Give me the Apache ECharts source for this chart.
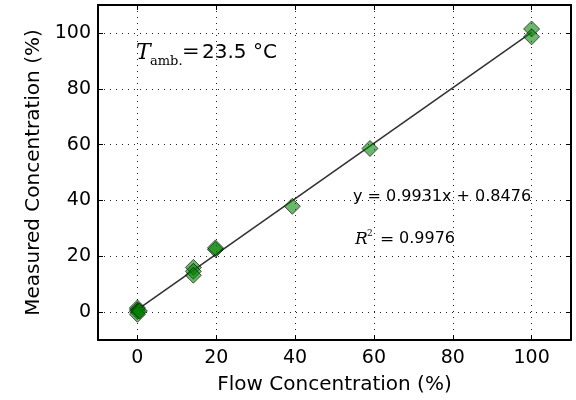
<!DOCTYPE html>
<html>
<head>
<meta charset="utf-8">
<script src="https://cdn.jsdelivr.net/npm/echarts@6/dist/echarts.min.js"></script>
<style>
  html, body { margin: 0; padding: 0; background: #fff; }
  #chart { width: 576px; height: 400px; }
</style>
</head>
<body>
<div id="chart"></div>
<script>
// measured points [flow %, measured %]
const points = [
  [0, 1.5], [0, 0.8], [0, 0.2], [0, -0.8], [0.5, 0.4],
  [14.2, 16.0], [14.2, 14.6], [14.2, 13.2],
  [19.8, 22.4], [19.8, 23.0],
  [39.3, 37.9],
  [59.0, 58.6],
  [100, 101.4], [100, 98.6]
];
// linear fit y = 0.9931x + 0.8476, end points
const fitLine = [[0, 0.85], [100, 100.16]];
const xTicks = [0, 20, 40, 60, 80, 100];
const yTicks = [0, 20, 40, 60, 80, 100];

const chart = echarts.init(document.getElementById("chart"));
const font = "DejaVu Sans";
const serif = "DejaVu Serif";

const gridLine = { show: true, lineStyle: { color: "#222", type: [1, 5], width: 1 } };
const line = { show: true, onZero: false, lineStyle: { color: "#000", width: 2 } };
function tick(vals) {
  return { show: true, inside: true, length: 5, customValues: vals, lineStyle: { color: "#000", width: 1 } };
}

const option = {
  animation: false,
  grid: { left: 98, right: 5, top: 5, bottom: 59 },
  xAxis: [
    {
      type: "value", min: -10, max: 110,
      axisLine: line, axisTick: tick(xTicks), splitLine: gridLine,
      axisLabel: { color: "#000", fontFamily: font, fontSize: 19, margin: 9, customValues: xTicks },
      name: "Flow Concentration (%)", nameLocation: "middle", nameGap: 35,
      nameTextStyle: { color: "#000", fontFamily: font, fontSize: 20 }
    },
    {
      type: "value", position: "top", min: -10, max: 110,
      axisLine: line, axisTick: tick(xTicks), splitLine: { show: false }, axisLabel: { show: false }
    }
  ],
  yAxis: [
    {
      type: "value", min: -10, max: 110,
      axisLine: line, axisTick: tick(yTicks), splitLine: gridLine,
      axisLabel: { color: "#000", fontFamily: font, fontSize: 19, margin: 7, customValues: yTicks },
      name: "Measured Concentration (%)", nameLocation: "middle", nameGap: 52,
      nameTextStyle: { color: "#000", fontFamily: font, fontSize: 20 }
    },
    {
      type: "value", position: "right", min: -10, max: 110,
      axisLine: line, axisTick: tick(yTicks), splitLine: { show: false }, axisLabel: { show: false }
    }
  ],
  series: [
    {
      type: "line", data: fitLine, symbol: "none", z: 3,
      lineStyle: { color: "#333", width: 1.6 }
    },
    {
      type: "scatter", data: points, symbol: "diamond", symbolSize: [16, 16], z: 4,
      itemStyle: { color: "rgba(0,128,0,0.72)", borderColor: "#000", borderWidth: 0.8 }
    }
  ],
  graphic: [
    { type: "text", left: 136, top: 42, style: { text: "T", font: "italic 22px " + serif, fill: "#000" } },
    { type: "text", left: 150, top: 55, style: { text: "amb.", font: "13px " + serif, fill: "#000" } },
    { type: "text", left: 182, top: 42, style: { text: "=", font: "21px " + serif, fill: "#000" } },
    { type: "text", left: 202, top: 43, style: { text: "23.5 °C", font: "20px " + font, fill: "#000" } },
    { type: "text", left: 353, top: 189, style: { text: "y = 0.9931x + 0.8476", font: "16px " + font, fill: "#000" } },
    { type: "text", left: 355, top: 231, style: { text: "R", font: "italic 17px " + serif, fill: "#000" } },
    { type: "text", left: 367, top: 229, style: { text: "2", font: "9px " + serif, fill: "#000" } },
    { type: "text", left: 380, top: 231, style: { text: "=", font: "17px " + serif, fill: "#000" } },
    { type: "text", left: 399, top: 231, style: { text: "0.9976", font: "16px " + font, fill: "#000" } }
  ]
};
chart.setOption(option);
</script>
</body>
</html>
